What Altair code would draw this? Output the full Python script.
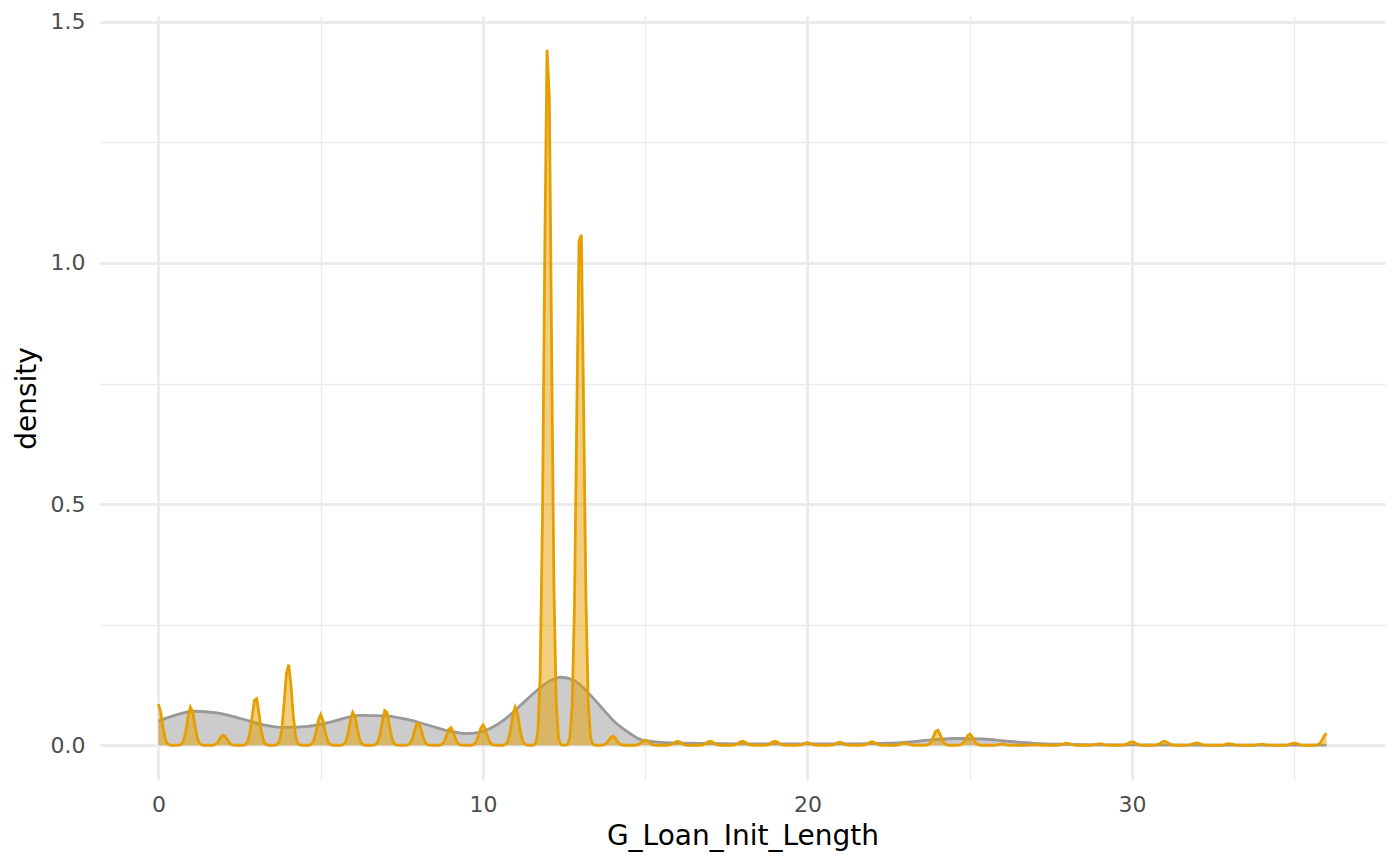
import altair as alt
import pandas as pd

loan_length_values = list(range(0, 37))
loan_length_counts = [232, 216, 58, 273, 460, 173, 187, 201, 129, 101, 115, 216,
                      4020, 3020, 52, 29, 23, 23, 23, 23, 14, 17, 20, 12, 86, 63,
                      6, 3, 12, 9, 20, 23, 14, 9, 6, 12, 68]

# Smooth grey density curve
grey_x = [0, 0.5, 1.1, 1.8, 2.5, 3.2, 3.9, 4.6, 5.3, 6.2, 7.0, 7.7, 8.4, 9.0, 9.5,
          10.0, 10.6, 11.1, 11.6, 12.1, 12.4, 12.8, 13.3, 13.7, 14.1, 14.5, 14.9,
          15.5, 16.2, 17, 18, 19, 20, 21, 22, 23, 23.8, 24.6, 25.4, 26.2, 27, 28,
          29, 30, 32, 34, 36]
grey_density = [0.050, 0.062, 0.0705, 0.067, 0.056, 0.043, 0.037, 0.039, 0.048,
                0.062, 0.061, 0.053, 0.040, 0.029, 0.0240, 0.029, 0.050, 0.079,
                0.110, 0.135, 0.141, 0.135, 0.105, 0.075, 0.046, 0.026, 0.011,
                0.006, 0.0045, 0.0035, 0.003, 0.003, 0.003, 0.003, 0.0035, 0.006,
                0.011, 0.014, 0.013, 0.008, 0.004, 0.002, 0.001, 0.0007, 0.0004,
                0.0003, 0.0002]

x_ticks = [0, 5, 10, 15, 20, 25, 30, 35]
y_ticks = [0, 0.25, 0.5, 0.75, 1.0, 1.25, 1.5]

FONT = "DejaVu Sans"
ORANGE = "#E69F00"
GREY = "#999999"

obs = pd.DataFrame({
    "G_Loan_Init_Length": [v for v, c in zip(loan_length_values, loan_length_counts) for _ in range(c)]
})
grey_df = pd.DataFrame({"G_Loan_Init_Length": grey_x, "density": grey_density})

x_scale = alt.Scale(domain=[-1.8, 37.8], nice=False, zero=False)
y_scale = alt.Scale(domain=[-0.072, 1.512], nice=False, zero=False)

x_axis = alt.Axis(
    values=x_ticks, format="d",
    labelExpr="datum.value % 10 == 0 ? datum.label : ''",
    title="G_Loan_Init_Length", grid=True, gridColor="#EBEBEB",
    gridWidth={"condition": {"test": "datum.value % 10 == 0", "value": 2.8}, "value": 1.4},
    domain=False, ticks=False, tickSize=0, labelPadding=14, labelFlush=False,
    labelOverlap=False, labelFontSize=22, labelColor="#4D4D4D", labelFont=FONT,
    titleFontSize=28, titleColor="black", titleFont=FONT, titleFontWeight="normal",
    titlePadding=7,
)
y_axis = alt.Axis(
    values=y_ticks,
    labelExpr="datum.value % 0.5 == 0 ? format(datum.value, '.1f') : ''",
    title="density", grid=True, gridColor="#EBEBEB",
    gridWidth={"condition": {"test": "datum.value % 0.5 == 0", "value": 2.8}, "value": 1.4},
    domain=False, ticks=False, tickSize=0, labelPadding=15, labelFlush=False,
    labelOverlap=False, labelFontSize=22, labelColor="#4D4D4D", labelFont=FONT,
    titleFontSize=28, titleColor="black", titleFont=FONT, titleFontWeight="normal",
    titlePadding=9,
)

enc_x = alt.X("G_Loan_Init_Length:Q", scale=x_scale, axis=x_axis)
enc_y = alt.Y("density:Q", scale=y_scale, axis=y_axis)

grey_area = alt.Chart(grey_df).mark_area(
    color=GREY, fillOpacity=0.5, interpolate="monotone"
).encode(x=enc_x, y=enc_y)
grey_line = alt.Chart(grey_df).mark_line(
    color=GREY, strokeWidth=2.8, interpolate="monotone"
).encode(x="G_Loan_Init_Length:Q", y="density:Q")

orange_base = alt.Chart(obs).transform_density(
    "G_Loan_Init_Length", as_=["G_Loan_Init_Length", "density"],
    bandwidth=0.109, extent=[0, 36], steps=511
)
orange_area = orange_base.mark_area(color=ORANGE, fillOpacity=0.5).encode(
    x="G_Loan_Init_Length:Q", y="density:Q")
orange_line = orange_base.mark_line(color=ORANGE, strokeWidth=2.8).encode(
    x="G_Loan_Init_Length:Q", y="density:Q")

chart = alt.layer(grey_area, grey_line, orange_area, orange_line).properties(
    width=1285, height=764, autosize="none",
    padding={"left": 92, "top": 8, "right": 7, "bottom": 77},
).configure(background="white").configure_view(strokeWidth=0, stroke="transparent")

chart.save("out.html", embed_options={"renderer": "svg", "actions": False})
